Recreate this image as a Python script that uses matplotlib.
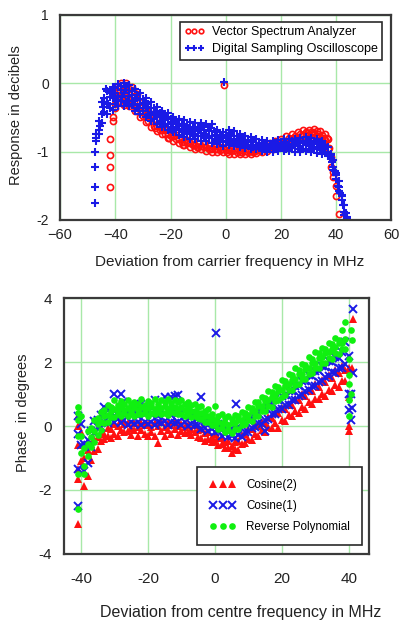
import matplotlib
matplotlib.use("Agg")
import matplotlib.pyplot as plt

plt.rcParams['font.family'] = ['Liberation Sans', 'DejaVu Sans']
plt.rcParams['axes.unicode_minus'] = False

# ---- top panel: amplitude response (dB) ----
# Digital Sampling Oscilloscope: frequency grid and band of readings (hi / mid / lo)
dso_mhz = [-47, -46, -45, -44, -43, -42, -41, -40, -39, -38,
           -37, -36, -35, -34, -33, -32, -31, -30, -29, -28,
           -27, -26, -25, -24, -23, -22, -21, -20, -19, -18,
           -17, -16, -15, -14, -13, -12, -11, -10, -9, -8,
           -7, -6, -5, -4, -3, -2, -1, 0, 1, 2,
           3, 4, 5, 6, 7, 8, 9, 10, 11, 12,
           13, 14, 15, 16, 17, 18, 19, 20, 21, 22,
           23, 24, 25, 26, 27, 28, 29, 30, 31, 32,
           33, 34, 35, 36, 37, 38, 39, 40, 41, 42,
           43, 44]
dso_hi = [-0.75, -0.55, -0.28, -0.22, -0.12, -0.13, -0.05, -0.07, -0.01, -0.04,
          0.0, -0.04, -0.03, -0.11, -0.08, -0.17, -0.15, -0.23, -0.21, -0.3,
          -0.28, -0.37, -0.35, -0.43, -0.4, -0.48, -0.44, -0.53, -0.49, -0.56,
          -0.52, -0.59, -0.54, -0.63, -0.57, -0.64, -0.58, -0.65, -0.58, -0.62,
          -0.59, -0.64, -0.6, -0.72, -0.69, -0.77, -0.72, -0.76, -0.69, -0.73,
          -0.7, -0.78, -0.74, -0.8, -0.77, -0.83, -0.79, -0.84, -0.81, -0.87,
          -0.83, -0.88, -0.84, -0.89, -0.84, -0.87, -0.83, -0.87, -0.82, -0.86,
          -0.82, -0.85, -0.81, -0.85, -0.8, -0.84, -0.79, -0.84, -0.8, -0.85,
          -0.82, -0.87, -0.85, -0.91, -0.93, -1.04, -1.12, -1.31, -1.43, -1.64,
          -1.78, -1.96]
dso_mid = [-0.8, -0.68, -0.45, -0.28, -0.29, -0.2, -0.22, -0.14, -0.18, -0.1,
           -0.14, -0.1, -0.19, -0.17, -0.25, -0.22, -0.31, -0.29, -0.37, -0.35,
           -0.43, -0.42, -0.5, -0.47, -0.55, -0.52, -0.59, -0.57, -0.64, -0.6,
           -0.67, -0.63, -0.69, -0.66, -0.72, -0.68, -0.74, -0.7, -0.73, -0.69,
           -0.75, -0.7, -0.77, -0.76, -0.82, -0.79, -0.85, -0.8, -0.82, -0.78,
           -0.84, -0.81, -0.86, -0.83, -0.88, -0.85, -0.9, -0.86, -0.91, -0.88,
           -0.93, -0.9, -0.94, -0.91, -0.94, -0.9, -0.93, -0.89, -0.92, -0.89,
           -0.92, -0.89, -0.92, -0.88, -0.92, -0.88, -0.91, -0.88, -0.92, -0.89,
           -0.94, -0.91, -0.96, -0.94, -1.02, -1.05, -1.22, -1.34, -1.52, -1.65,
           -1.88, -1.99]
dso_lo = [-0.84, -0.74, -0.58, -0.42, -0.45, -0.36, -0.39, -0.31, -0.34, -0.26,
          -0.33, -0.28, -0.34, -0.32, -0.41, -0.37, -0.45, -0.41, -0.5, -0.47,
          -0.55, -0.52, -0.6, -0.57, -0.64, -0.62, -0.69, -0.65, -0.72, -0.69,
          -0.76, -0.72, -0.79, -0.75, -0.81, -0.77, -0.82, -0.78, -0.84, -0.8,
          -0.85, -0.8, -0.87, -0.83, -0.89, -0.86, -0.92, -0.86, -0.9, -0.87,
          -0.92, -0.88, -0.93, -0.9, -0.95, -0.91, -0.96, -0.93, -0.97, -0.94,
          -0.99, -0.96, -1.01, -0.97, -1.01, -0.96, -0.99, -0.95, -0.99, -0.96,
          -0.99, -0.95, -1.0, -0.96, -1.01, -0.96, -0.99, -0.96, -1.0, -0.97,
          -1.02, -0.98, -1.03, -1.0, -1.06, -1.1, -1.27, -1.4, -1.58, -1.71,
          -1.93, -2.0]
dso_odd_mhz = [-47.5, -47.5, -47.5, -47.5, -0.5,
               -45.5, -44.5, -43.5, -42.5, -41.5, -39.5, -37.5, -36.5, -35.5, -33.5,
               -31.5, -29.5, -27.5, -25.5, -23.5, -21.5, -19.5, -17.5, -15.5, -13.5,
               -11.5, -9.5, -7.5, -5.5, -3.5, -1.5, 0.5, 1.5, 3.5, 5.5,
               7.5, 9.5, 11.5, 13.5, 15.5, 17.5, 19.5, 21.5, 23.5, 25.5,
               27.5, 29.5, 31.5, 33.5, 35.5, 37.5, 38.5, 39.5, 40.5, 41.5,
               42.5, 43.5]
dso_odd_db = [-1.75, -1.52, -1.22, -1.0, 0.02,
              -0.62, -0.35, -0.08, -0.3, -0.15, -0.24, -0.2, -0.06, -0.26, -0.3,
              -0.36, -0.3, -0.46, -0.42, -0.6, -0.5, -0.68, -0.6, -0.72, -0.66,
              -0.76, -0.66, -0.78, -0.66, -0.84, -0.78, -0.85, -0.74, -0.86, -0.8,
              -0.9, -0.85, -0.92, -0.87, -0.95, -0.9, -0.95, -0.86, -0.94, -0.87,
              -0.96, -0.84, -0.93, -0.88, -0.96, -1.05, -1.15, -1.28, -1.5, -1.6,
              -1.78, -1.9]

# Vector Spectrum Analyzer
vsa_mhz = [-41, -40, -39, -38, -37, -36, -35, -34, -33, -32,
           -31, -30, -29, -28, -27, -26, -25, -24, -23, -22,
           -21, -20, -19, -18, -17, -16, -15, -14, -13, -12,
           -11, -10, -9, -8, -7, -6, -5, -4, -3, -2,
           -1, 0, 1, 2, 3, 4, 5, 6, 7, 8,
           9, 10, 11, 12, 13, 14, 15, 16, 17, 18,
           19, 20, 21, 22, 23, 24, 25, 26, 27, 28,
           29, 30, 31, 32, 33, 34, 35, 36, 37, 38,
           39, 40, 41]
vsa_hi = [-0.5, -0.3, -0.04, 0.0, -0.08, 0.0, -0.09, -0.06, -0.18, -0.16,
          -0.28, -0.26, -0.38, -0.4, -0.5, -0.53, -0.62, -0.61, -0.68, -0.68,
          -0.74, -0.72, -0.78, -0.76, -0.82, -0.8, -0.86, -0.83, -0.88, -0.86,
          -0.91, -0.88, -0.92, -0.89, -0.94, -0.9, -0.95, -0.91, -0.96, -0.93,
          -0.96, -0.93, -0.98, -0.94, -0.98, -0.95, -0.98, -0.95, -0.99, -0.96,
          -0.99, -0.95, -0.98, -0.93, -0.96, -0.91, -0.94, -0.88, -0.9, -0.84,
          -0.87, -0.81, -0.84, -0.78, -0.8, -0.75, -0.77, -0.72, -0.74, -0.69,
          -0.72, -0.68, -0.71, -0.67, -0.7, -0.7, -0.76, -0.74, -0.82, -1.08,
          -1.3, -1.5, -1.92]
vsa_lo = [-0.55, -0.36, -0.22, -0.28, -0.32, -0.25, -0.33, -0.3, -0.4, -0.4,
          -0.49, -0.48, -0.57, -0.56, -0.64, -0.63, -0.7, -0.68, -0.75, -0.74,
          -0.8, -0.78, -0.84, -0.82, -0.88, -0.86, -0.9, -0.88, -0.93, -0.91,
          -0.96, -0.93, -0.97, -0.94, -0.99, -0.96, -1.0, -0.97, -1.01, -0.98,
          -1.01, -0.98, -1.03, -0.99, -1.03, -1.0, -1.04, -1.0, -1.03, -1.0,
          -1.04, -1.0, -1.02, -0.98, -1.01, -0.96, -0.99, -0.94, -0.96, -0.91,
          -0.93, -0.88, -0.9, -0.85, -0.87, -0.82, -0.85, -0.8, -0.82, -0.78,
          -0.8, -0.76, -0.79, -0.75, -0.78, -0.79, -0.84, -0.83, -0.96, -1.22,
          -1.38, -1.65, -2.05]
vsa_odd_mhz = [-42, -42, -42, -42, -0.5,
               -39.5, -38.5, -37.5, -36.5, -35.5, -34.5, -33.5, -30.5, -28.5, -25.5,
               -20.5, -15.5, -10.5, -5.5, 0.5, 5.5, 10.5, 15.5, 20.5, 24.5,
               27.5, 29.5, 31.5, 33.5, 35.5, 36.5, 37.5]
vsa_odd_db = [-1.52, -1.23, -1.05, -0.82, -0.02,
              -0.12, -0.08, -0.18, -0.1, -0.2, -0.24, -0.1, -0.42, -0.48, -0.66,
              -0.8, -0.9, -0.94, -0.97, -1.0, -1.01, -0.99, -0.95, -0.86, -0.8,
              -0.76, -0.73, -0.72, -0.74, -0.8, -0.8, -0.95]

# ---- bottom panel: phase (degrees) ----
ph_mhz = [-40, -39, -38, -37, -36, -35, -34, -33, -32, -31,
          -30, -29, -28, -27, -26, -25, -24, -23, -22, -21,
          -20, -19, -18, -17, -16, -15, -14, -13, -12, -11,
          -10, -9, -8, -7, -6, -5, -4, -3, -2, -1,
          0, 1, 2, 3, 4, 5, 6, 7, 8, 9,
          10, 11, 12, 13, 14, 15, 16, 17, 18, 19,
          20, 21, 22, 23, 24, 25, 26, 27, 28, 29,
          30, 31, 32, 33, 34, 35, 36, 37, 38, 39,
          40]
cos2_hi = [-0.2, -1.0, -0.75, -0.55, -0.4, -0.35, -0.2, -0.25, -0.05, -0.1,
           0.05, 0.0, 0.2, 0.05, 0.1, -0.05, 0.1, -0.02, 0.08, 0.02,
           0.06, -0.02, 0.1, 0.0, 0.12, -0.04, 0.08, 0.02, 0.12, 0.0,
           0.06, -0.02, 0.04, -0.08, 0.02, -0.12, -0.1, -0.22, -0.2, -0.34,
           -0.26, -0.38, -0.36, -0.5, -0.46, -0.62, -0.5, -0.48, -0.28, -0.24,
           -0.08, -0.1, 0.04, 0.0, 0.14, 0.1, 0.28, 0.24, 0.42, 0.4,
           0.55, 0.52, 0.7, 0.66, 0.85, 0.82, 1.0, 0.95, 1.14, 1.1,
           1.3, 1.22, 1.44, 1.38, 1.6, 1.5, 1.75, 1.66, 1.88, 1.76,
           1.8]
cos2_lo = [-1.1, -1.88, -1.55, -1.05, -0.78, -0.72, -0.48, -0.42, -0.32, -0.36,
           -0.26, -0.3, -0.12, -0.2, -0.16, -0.28, -0.14, -0.3, -0.12, -0.24,
           -0.32, -0.18, -0.3, -0.52, -0.16, -0.3, -0.12, -0.26, -0.1, -0.28,
           -0.16, -0.22, -0.2, -0.28, -0.2, -0.34, -0.36, -0.48, -0.42, -0.5,
           -0.46, -0.58, -0.55, -0.68, -0.7, -0.84, -0.72, -0.74, -0.56, -0.54,
           -0.4, -0.44, -0.26, -0.3, -0.14, -0.2, -0.04, -0.06, 0.08, -0.06,
           0.18, 0.16, 0.34, 0.3, 0.46, 0.42, 0.6, 0.52, 0.74, 0.68,
           0.86, 0.84, 1.0, 0.94, 1.14, 1.08, 1.28, 1.22, 1.42, 1.4,
           0.9]
cos2_odd_mhz = [-41, -41, -41, -41, -41, -41, 40, 40, 40.5, 41.2, 41]
cos2_odd_deg = [-3.05, -1.65, -1.35, -0.6, 0.0, 0.3, 0.0, -0.15, 1.75, 3.35, 1.8]

cos1_hi = [0.05, -0.55, -0.45, -0.15, 0.15, 0.18, 0.35, 0.38, 0.5, 0.45,
           0.48, 0.42, 0.52, 0.38, 0.4, 0.35, 0.48, 0.32, 0.44, 0.36,
           0.44, 0.38, 0.46, 0.32, 0.48, 0.36, 0.46, 0.34, 0.44, 0.4,
           0.42, 0.32, 0.42, 0.3, 0.34, 0.26, 0.28, 0.16, 0.22, 0.1,
           0.14, 0.06, 0.08, -0.04, 0.0, -0.1, 0.02, -0.04, 0.08, 0.06,
           0.28, 0.26, 0.4, 0.42, 0.55, 0.52, 0.7, 0.66, 0.85, 0.8,
           0.95, 0.96, 1.1, 1.1, 1.25, 1.26, 1.42, 1.4, 1.58, 1.56,
           1.72, 1.72, 1.88, 1.86, 2.02, 2.0, 2.16, 2.14, 2.3, 2.62,
           1.0]
cos1_lo = [-0.6, -1.4, -1.15, -0.65, -0.22, -0.02, -0.04, 0.12, 0.1, 0.22,
           0.12, 0.22, 0.08, 0.18, 0.02, 0.14, 0.06, 0.12, 0.04, 0.12,
           0.06, 0.14, 0.02, 0.12, 0.1, 0.16, 0.02, 0.14, 0.1, 0.14,
           0.02, 0.12, 0.0, 0.06, 0.02, 0.04, -0.1, -0.06, -0.16, -0.1,
           -0.2, -0.16, -0.3, -0.24, -0.34, -0.3, -0.36, -0.28, -0.34, -0.2,
           -0.2, -0.06, -0.04, 0.1, 0.06, 0.2, 0.22, 0.36, 0.36, 0.54,
           0.52, 0.66, 0.66, 0.8, 0.82, 0.94, 0.98, 1.1, 1.12, 1.24,
           1.26, 1.38, 1.42, 1.54, 1.56, 1.68, 1.66, 1.82, 1.8, 1.95,
           0.5]
cos1_odd_mhz = [-41, -41, -41, -41, -33, -30, -28, -27.5, -22, -18, -15, -13,
                -12, -11, -4, 0.3, 6.4, 15, 40.5, 40.5, 41.3, 41, 41.3, 40]
cos1_odd_deg = [-2.5, -1.35, -0.25, 0.3, 0.6, 1.0, 1.0, 0.75, 0.7, 0.8, 0.92, 0.9,
                0.95, 0.97, 0.9, 2.9, 0.7, -0.15, 0.2, 1.0, 1.65, 0.55, 3.65, 2.2]

rp_hi = [0.3, -0.7, -0.15, -0.05, 0.2, 0.25, 0.45, 0.5, 0.65, 0.6,
         0.8, 0.65, 0.78, 0.7, 0.82, 0.68, 0.76, 0.7, 0.84, 0.66,
         0.78, 0.72, 0.85, 0.7, 0.8, 0.74, 0.86, 0.72, 0.82, 0.76,
         0.8, 0.68, 0.76, 0.66, 0.7, 0.58, 0.62, 0.48, 0.52, 0.38,
         0.62, 0.32, 0.36, 0.26, 0.3, 0.22, 0.34, 0.3, 0.45, 0.42,
         0.6, 0.56, 0.75, 0.74, 0.92, 0.88, 1.1, 1.05, 1.25, 1.22,
         1.45, 1.42, 1.62, 1.58, 1.8, 1.74, 1.95, 1.92, 2.15, 2.08,
         2.3, 2.28, 2.45, 2.4, 2.6, 2.55, 2.75, 2.7, 3.0, 3.25,
         2.1]
rp_mid = [-0.3, -1.25, -0.55, -0.35, -0.15, 0.05, 0.12, 0.32, 0.33, 0.48,
          0.52, 0.46, 0.58, 0.5, 0.55, 0.48, 0.6, 0.5, 0.58, 0.52,
          0.56, 0.62, 0.52, 0.6, 0.56, 0.64, 0.52, 0.6, 0.58, 0.54,
          0.58, 0.5, 0.56, 0.48, 0.46, 0.42, 0.42, 0.32, 0.3, 0.22,
          0.18, 0.12, 0.08, 0.1, 0.02, 0.08, 0.1, 0.18, 0.18, 0.3,
          0.34, 0.46, 0.48, 0.62, 0.64, 0.78, 0.8, 0.92, 0.98, 1.08,
          1.12, 1.26, 1.32, 1.44, 1.48, 1.62, 1.64, 1.78, 1.82, 1.96,
          1.98, 2.12, 2.16, 2.28, 2.32, 2.42, 2.46, 2.58, 2.6, 2.72,
          1.3]
rp_lo = [-0.85, -1.5, -0.95, -0.65, -0.5, -0.28, -0.12, 0.08, 0.12, 0.28,
         0.28, 0.38, 0.32, 0.42, 0.32, 0.42, 0.3, 0.38, 0.36, 0.4,
         0.32, 0.42, 0.36, 0.44, 0.38, 0.42, 0.34, 0.44, 0.42, 0.38,
         0.36, 0.32, 0.42, 0.28, 0.32, 0.26, 0.22, 0.12, 0.12, 0.02,
         0.02, -0.08, -0.06, -0.18, -0.12, -0.22, -0.08, -0.1, 0.04, 0.06,
         0.18, 0.16, 0.32, 0.3, 0.48, 0.46, 0.62, 0.6, 0.78, 0.8,
         0.92, 0.96, 1.12, 1.14, 1.28, 1.3, 1.46, 1.48, 1.62, 1.66,
         1.82, 1.82, 1.98, 1.96, 2.12, 2.1, 2.28, 2.26, 2.42, 2.4,
         0.8]
rp_odd_mhz = [-41, -41, -41, -41, -41, -41, 40, 40, 40.5, 41, 40.5]
rp_odd_deg = [-2.6, -1.5, -0.3, 0.2, 0.4, 0.6, 1.6, 0.3, 1.0, 2.7, 3.0]

top_xticks = [-60, -40, -20, 0, 20, 40, 60]
top_xticklabels = ['\u221260', '\u221240', '\u221220', '0', '20', '40', '60']

RED = '#ff1010'
BLUE = '#1a1ae6'
GREEN = '#10f010'
GRID = '#a8e8a8'
FRAME = '#3a3a3a'
TEXT = '#222222'


def style_axes(ax):
    ax.grid(True, color=GRID, linewidth=1.0)
    ax.set_axisbelow(True)
    for s in ax.spines.values():
        s.set_color(FRAME)
        s.set_linewidth(1.6)
    ax.tick_params(length=0, colors=TEXT)


fig = plt.figure(figsize=(4.01, 6.21), dpi=100)

# ---- top panel ----
ax1 = fig.add_axes([0.150, 0.646, 0.826, 0.330])
style_axes(ax1)
vsa_x = vsa_mhz + vsa_mhz + vsa_odd_mhz
vsa_y = vsa_hi + vsa_lo + vsa_odd_db
dso_x = dso_mhz + dso_mhz + dso_mhz + dso_odd_mhz
dso_y = dso_hi + dso_mid + dso_lo + dso_odd_db
ax1.plot(vsa_x, vsa_y, ls='none', marker='o', ms=4.4, mfc='none', mec=RED,
         mew=1.2, label='Vector Spectrum Analyzer')
ax1.plot(dso_x, dso_y, ls='none', marker='+', ms=5.8, color=BLUE,
         mew=1.5, label='Digital Sampling Oscilloscope')
ax1.set_xlim(-60, 60)
ax1.set_ylim(-2, 1)
ax1.set_xticks(top_xticks)
ax1.set_xticklabels(top_xticklabels)
ax1.set_yticks([-2, -1, 0, 1])
ax1.tick_params(axis='x', pad=6, labelsize=10.5)
ax1.tick_params(axis='y', pad=8, labelsize=10)
leg1 = ax1.legend(loc='upper right', bbox_to_anchor=(382 / 401, 1 - 22 / 621),
                  bbox_transform=fig.transFigure, borderaxespad=0,
                  numpoints=3, markerscale=0.75, fontsize=9, fancybox=False,
                  framealpha=1, edgecolor='#2a2a2a', borderpad=0.35,
                  handlelength=1.6, handletextpad=0.6, labelspacing=0.4)
leg1.get_frame().set_linewidth(1.2)
fig.text(229.5 / 401, 1 - 262 / 621, 'Deviation from carrier frequency in MHz',
         ha='center', va='center', fontsize=11, color=TEXT)
fig.text(16 / 401, 1 - 115 / 621, 'Response in decibels', rotation=90,
         ha='center', va='center', fontsize=10.5, color=TEXT)

# ---- bottom panel ----
ax2 = fig.add_axes([0.160, 0.108, 0.760, 0.412])
style_axes(ax2)
ax2.plot(ph_mhz + ph_mhz + cos2_odd_mhz, cos2_hi + cos2_lo + cos2_odd_deg,
         ls='none', marker='^', ms=5.4, color=RED, mew=0, label='Cosine(2)')
ax2.plot(ph_mhz + ph_mhz + cos1_odd_mhz, cos1_hi + cos1_lo + cos1_odd_deg,
         ls='none', marker='x', ms=5.8, color=BLUE, mew=1.4, label='Cosine(1)')
ax2.plot(ph_mhz + ph_mhz + ph_mhz + rp_odd_mhz, rp_hi + rp_mid + rp_lo + rp_odd_deg,
         ls='none', marker='o', ms=4.8, color=GREEN, mew=0, label='Reverse Polynomial')
ax2.set_xlim(-45, 46)
ax2.set_ylim(-4, 4)
ax2.set_xticks([-40, -20, 0, 20, 40])
ax2.set_yticks([-4, -2, 0, 2, 4])
ax2.tick_params(axis='x', pad=13, labelsize=11)
ax2.tick_params(axis='y', pad=9, labelsize=11)
leg2 = ax2.legend(loc='lower right', bbox_to_anchor=(362 / 401, 1 - 545 / 621),
                  bbox_transform=fig.transFigure, borderaxespad=0,
                  numpoints=3, fontsize=8.4, fancybox=False, framealpha=1,
                  edgecolor='#2a2a2a', borderpad=1.0, handlelength=2.3,
                  handletextpad=0.9, labelspacing=0.8)
leg2.get_frame().set_linewidth(1.2)
fig.text(240.5 / 401, 1 - 612 / 621, 'Deviation from centre frequency in MHz',
         ha='center', va='center', fontsize=11.5, color=TEXT)
fig.text(23 / 401, 1 - 413 / 621, 'Phase  in degrees', rotation=90,
         ha='center', va='center', fontsize=10.5, color=TEXT)

fig.savefig('out.png', dpi=100)
